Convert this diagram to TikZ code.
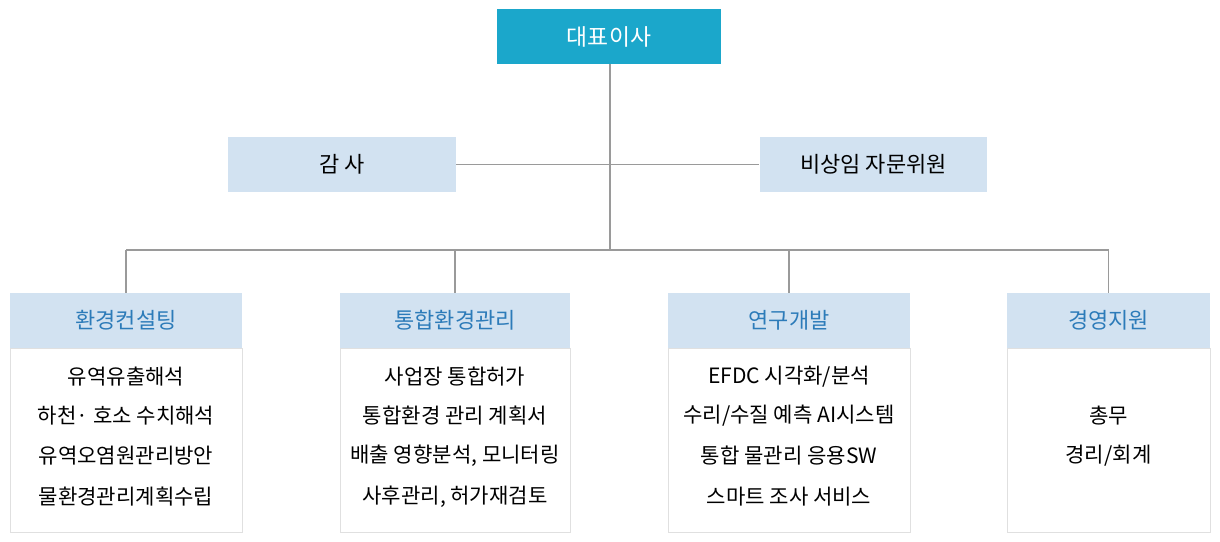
\documentclass[tikz,border=0pt]{standalone}
\usepackage{fontspec}
\setmainfont{Noto Sans CJK KR}
\usetikzlibrary{positioning}
\definecolor{ceo}{HTML}{1BA7CB}
\definecolor{pale}{HTML}{D2E2F1}
\definecolor{head}{HTML}{2C7BB9}
\definecolor{edge}{HTML}{9A9A9A}

\begin{document}
\begin{tikzpicture}[x=0.02cm,y=-0.02cm]
\tikzstyle{topbox} = [rectangle, fill=ceo, text=white, minimum width=4.48cm, minimum height=1.1cm, font=\fontsize{13}{15}\selectfont, inner sep=0pt]
\tikzstyle{sidebox} = [rectangle, fill=pale, minimum width=4.56cm, minimum height=1.1cm, font=\fontsize{12.5}{15}\selectfont, inner sep=0pt]
\tikzstyle{headbox} = [rectangle, fill=pale, text=head, minimum height=1.1cm, font=\fontsize{12.5}{15}\selectfont, inner sep=0pt]
\tikzstyle{bodybox} = [rectangle, draw=black!12, minimum height=3.68cm, inner sep=0pt]
\tikzstyle{item} = [font=\fontsize{12}{14}\selectfont, inner sep=0pt]
\tikzstyle{link} = [draw=edge, line width=0.6pt]

\useasboundingbox (0,0) rectangle (1220,541);

\node (ceo) [topbox] at (609,36.5) {대표이사};
\node (audit) [sidebox] at (342,164.5) {감 사};
\node (advis) [sidebox] at (873.5,164.5) {비상임 자문위원};

\node (h1) [headbox, minimum width=4.64cm] at (126,320.5) {환경컨설팅};
\node (h2) [headbox, minimum width=4.6cm] at (455,320.5) {통합환경관리};
\node (h3) [headbox, minimum width=4.84cm] at (789,320.5) {연구개발};
\node (h4) [headbox, minimum width=4.06cm] at (1108.5,320.5) {경영지원};

\node (b1) [bodybox, minimum width=4.64cm] at (126,440) {};
\node (b2) [bodybox, minimum width=4.6cm] at (455,440) {};
\node (b3) [bodybox, minimum width=4.84cm] at (789,440) {};
\node (b4) [bodybox, minimum width=4.06cm] at (1108.5,440) {};

\node [item] at (126,377) {유역유출해석};
\node [item] at (126,416) {하천· 호소 수치해석};
\node [item] at (126,456) {유역오염원관리방안};
\node [item] at (126,497) {물환경관리계획수립};

\node [item] at (455,377) {사업장 통합허가};
\node [item] at (455,416) {통합환경 관리 계획서};
\node [item] at (455,456) {배출 영향분석, 모니터링};
\node [item] at (455,497) {사후관리, 허가재검토};

\node [item] at (789,377) {EFDC 시각화/분석};
\node [item] at (789,416) {수리/수질 예측 AI시스템};
\node [item] at (789,456) {통합 물관리 응용SW};
\node [item] at (789,497) {스마트 조사 서비스};

\node [item] at (1108.5,416) {총무};
\node [item] at (1108.5,456) {경리/회계};

\coordinate (hub) at (610,250);
\draw [link] (ceo.south -| hub) -- (hub);
\draw [link] (audit.east) -- (advis.west);
\draw [link] (h1.north |- hub) -- (h4.north |- hub);
\draw [link] (h1.north |- hub) -- (h1.north);
\draw [link] (h2.north |- hub) -- (h2.north);
\draw [link] (h3.north |- hub) -- (h3.north);
\draw [link] (h4.north |- hub) -- (h4.north);
\end{tikzpicture}
\end{document}
